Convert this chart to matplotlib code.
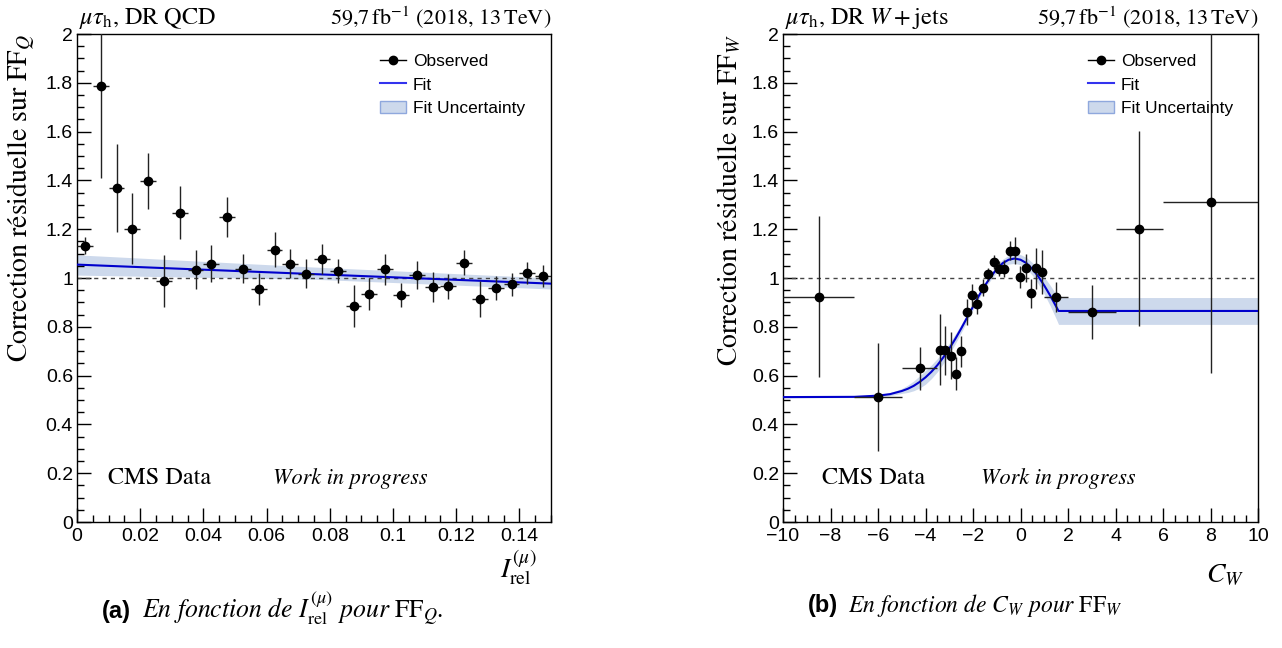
import numpy as np
import matplotlib
matplotlib.use("Agg")
import matplotlib.pyplot as plt
from matplotlib.ticker import MultipleLocator
from matplotlib.patches import Patch
from matplotlib.lines import Line2D

plt.rcParams['mathtext.fontset'] = 'stix'
plt.rcParams['font.family'] = ['Liberation Sans', 'DejaVu Sans']

# ---- left panel: I_rel (30 bins of 0.005) ----
iso_x = [0.0025, 0.0075, 0.0125, 0.0175, 0.0225, 0.0275, 0.0325, 0.0375, 0.0425, 0.0475,
         0.0525, 0.0575, 0.0625, 0.0675, 0.0725, 0.0775, 0.0825, 0.0875, 0.0925, 0.0975,
         0.1025, 0.1075, 0.1125, 0.1175, 0.1225, 0.1275, 0.1325, 0.1375, 0.1425, 0.1475]
iso_xerr = 0.0025
iso_y = [1.132, 1.788, 1.370, 1.202, 1.397, 0.989, 1.268, 1.034, 1.059, 1.251,
         1.038, 0.955, 1.116, 1.059, 1.018, 1.078, 1.029, 0.886, 0.935, 1.035,
         0.930, 1.014, 0.964, 0.966, 1.063, 0.913, 0.959, 0.974, 1.020, 1.010]
iso_yerr = [0.035, 0.380, 0.180, 0.145, 0.115, 0.107, 0.110, 0.080, 0.077, 0.082,
            0.060, 0.065, 0.072, 0.060, 0.060, 0.060, 0.050, 0.085, 0.066, 0.062,
            0.050, 0.057, 0.061, 0.050, 0.052, 0.073, 0.050, 0.046, 0.044, 0.045]
iso_fit_x = [0.0, 0.075, 0.15]
iso_fit_y = [1.055, 1.016, 0.977]
iso_band_lo = [1.012, 0.995, 0.955]
iso_band_hi = [1.095, 1.045, 1.000]

# ---- right panel: C_W (variable bins) ----
cw_x = [-8.5, -6.0, -4.25,
        -3.3875, -3.1625, -2.9375, -2.7125, -2.4875, -2.2625, -2.0375, -1.8125, -1.5875, -1.3625,
        -1.1375, -0.9125, -0.6875, -0.4625, -0.2375, -0.0125, 0.2125, 0.4375, 0.6625, 0.8875,
        1.5, 3.0, 5.0, 8.0]
cw_xerr = [1.5, 1.0, 0.75] + [0.1125] * 20 + [0.5, 1.0, 1.0, 2.0]
cw_y = [0.923, 0.512, 0.631,
        0.706, 0.703, 0.681, 0.608, 0.699, 0.861, 0.929, 0.895, 0.960, 1.016,
        1.066, 1.038, 1.038, 1.112, 1.112, 1.003, 1.040, 0.938, 1.040, 1.026,
        0.921, 0.862, 1.202, 1.311]
cw_yerr = [0.330, 0.220, 0.088,
           0.145, 0.100, 0.096, 0.068, 0.063, 0.052, 0.048, 0.041, 0.034, 0.027,
           0.030, 0.030, 0.034, 0.040, 0.055, 0.045, 0.058, 0.060, 0.085, 0.090,
           0.062, 0.110, 0.400, 0.700]
cw_fit_x = [-10, -7, -6, -5.5, -5, -4.75, -4.5, -4.25, -4, -3.75, -3.5, -3.25, -3, -2.75,
            -2.5, -2.25, -2, -1.75, -1.5, -1.25, -1, -0.75, -0.5, -0.25, 0, 0.25, 0.5,
            0.75, 1.0, 1.25, 1.5, 1.6, 10]
cw_fit_y = [0.512, 0.513, 0.518, 0.524, 0.537, 0.546, 0.558, 0.574, 0.593, 0.616, 0.643,
            0.675, 0.711, 0.750, 0.793, 0.838, 0.883, 0.928, 0.969, 1.006, 1.037, 1.061,
            1.075, 1.080, 1.075, 1.061, 1.037, 1.006, 0.969, 0.928, 0.883, 0.865, 0.865]
cw_band_hw = [0.003, 0.003, 0.004, 0.006, 0.010, 0.015, 0.020, 0.025, 0.028, 0.028, 0.027,
              0.025, 0.022, 0.020, 0.017, 0.015, 0.013, 0.012, 0.012, 0.013, 0.014, 0.016,
              0.018, 0.020, 0.021, 0.023, 0.026, 0.030, 0.035, 0.042, 0.050, 0.055, 0.055]

fit_col = '#0000cc'
band_col = '#cdd9ec'
serif = 'STIXGeneral'

fig = plt.figure(figsize=(12.82, 6.48), dpi=100)
ax1 = fig.add_axes([0.0601, 0.1944, 0.3697, 0.7531])
ax2 = fig.add_axes([0.6108, 0.1944, 0.3705, 0.7531])


def draw_panel(ax, x, xerr, y, yerr, fx, fy, lo, hi):
    ax.fill_between(fx, lo, hi, color=band_col, lw=0, zorder=1)
    ax.axhline(1.0, color='#444444', ls=(0, (3, 3)), lw=1, zorder=2)
    ax.plot(fx, fy, color=fit_col, lw=1.5, zorder=3)
    ax.errorbar(x, y, xerr=xerr, yerr=yerr, fmt='o', color='black', ecolor='#222222',
                elinewidth=1, ms=6, capsize=0, zorder=4)
    ax.set_ylim(0, 2)
    ax.yaxis.set_major_locator(MultipleLocator(0.2))
    ax.yaxis.set_minor_locator(MultipleLocator(0.05))
    ax.tick_params(which='both', direction='in', top=False, right=False, labelsize=14, width=1)
    ax.tick_params(which='major', length=10)
    ax.tick_params(which='minor', length=5)
    ax.tick_params(axis='y', pad=3)
    ax.tick_params(axis='x', pad=4)
    for s in ax.spines.values():
        s.set_linewidth(1)
    ax.yaxis.set_major_formatter(plt.FuncFormatter(lambda v, p: ('%g' % round(v, 2))))


# left panel
draw_panel(ax1, iso_x, iso_xerr, iso_y, iso_yerr, iso_fit_x, iso_fit_y, iso_band_lo, iso_band_hi)
ax1.set_xlim(0, 0.15)
ax1.xaxis.set_major_locator(MultipleLocator(0.02))
ax1.xaxis.set_minor_locator(MultipleLocator(0.005))
ax1.xaxis.set_major_formatter(plt.FuncFormatter(lambda v, p: ('%g' % round(v, 3))))

# right panel
cw_lo = [a - b for a, b in zip(cw_fit_y, cw_band_hw)]
cw_hi = [a + b for a, b in zip(cw_fit_y, cw_band_hw)]
draw_panel(ax2, cw_x, cw_xerr, cw_y, cw_yerr, cw_fit_x, cw_fit_y, cw_lo, cw_hi)
ax2.set_xlim(-10, 10)
ax2.xaxis.set_major_locator(MultipleLocator(2))
ax2.xaxis.set_minor_locator(MultipleLocator(0.5))

# labels / texts
for ax, lab, tag, xl, xly, lx in [
        (ax1, r'Correction résiduelle sur FF$_Q$', r'$\mu\tau_{\mathrm{h}}$, DR QCD',
         r'$I^{(\mu)}_{\mathrm{rel}}$', -0.052, 0.639),
        (ax2, r'Correction résiduelle sur FF$_W$', r'$\mu\tau_{\mathrm{h}}$, DR $W + $jets',
         r'$C_W$', -0.082, 0.642)]:
    ax.set_ylabel(lab, fontsize=20, family=serif, loc='top')
    ax.yaxis.set_label_coords(-0.083, 1.0)
    ax.set_xlabel(xl, fontsize=20, loc='right')
    ax.xaxis.set_label_coords(0.97, xly)
    ax.text(0.005, 1.006, tag, transform=ax.transAxes, fontsize=17.5, family=serif,
            ha='left', va='bottom')
    ax.text(1.0, 1.006, r'59,7$\,$fb$^{-1}$ (2018, 13$\,$TeV)', transform=ax.transAxes,
            fontsize=16, family=serif, ha='right', va='bottom')
    ax.text(0.066 if ax is ax1 else 0.082, 0.078, 'CMS Data', transform=ax.transAxes,
            fontsize=17.5, family=serif)
    ax.text(0.414 if ax is ax1 else 0.417, 0.078, 'Work in progress', transform=ax.transAxes,
            fontsize=16, family=serif, style='italic')
    handles = [
        Line2D([], [], color='black', marker='o', ms=6, lw=1),
        Line2D([], [], color='#3333ee', lw=1.5),
        Patch(facecolor=band_col, edgecolor='#8fa8dd'),
    ]
    ax.legend(handles, ['Observed', 'Fit', 'Fit Uncertainty'], loc='upper left',
              bbox_to_anchor=(lx, 0.96), frameon=False, fontsize=12.5, handlelength=1.5,
              handletextpad=0.4, labelspacing=0.5, borderpad=0, borderaxespad=0)

# captions
fig.text(102 / 1282, 30 / 648, '(a)', fontsize=17, fontweight='bold', ha='left', va='baseline')
fig.text(142 / 1282, 30 / 648, r'En fonction de $I^{(\mu)}_{\mathrm{rel}}$ pour $\mathrm{FF}_Q$.',
         fontsize=18.5, family=serif, style='italic', ha='left', va='baseline')
fig.text(808 / 1282, 36 / 648, '(b)', fontsize=17, fontweight='bold', ha='left', va='baseline')
fig.text(848 / 1282, 36 / 648, r'En fonction de $C_W$ pour $\mathrm{FF}_W$',
         fontsize=17, family=serif, style='italic', ha='left', va='baseline')

fig.savefig('out.png', dpi=100)
